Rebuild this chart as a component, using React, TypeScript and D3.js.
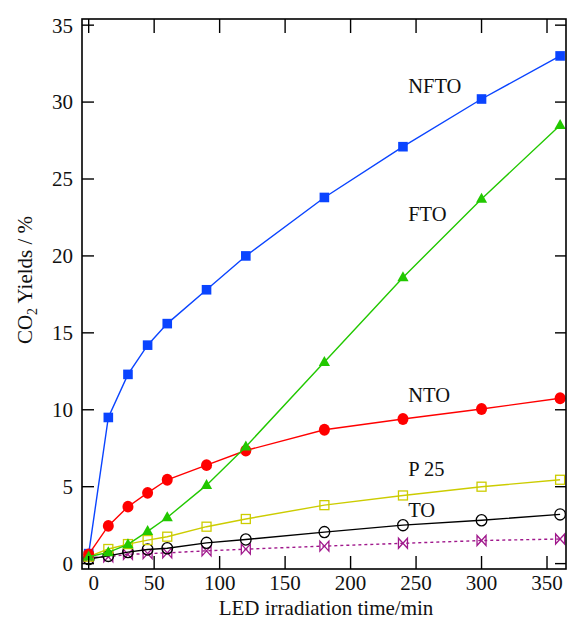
import React from "react";
import * as d3 from "d3";

const times = [0, 15, 30, 45, 60, 90, 120, 180, 240, 300, 360];
const nfto = [0.65, 9.5, 12.3, 14.2, 15.6, 17.8, 20.0, 23.8, 27.1, 30.2, 33.0];
const fto = [0.45, 0.73, 1.25, 2.1, 3.0, 5.1, 7.6, 13.1, 18.6, 23.7, 28.5];
const nto = [0.6, 2.45, 3.7, 4.6, 5.45, 6.4, 7.35, 8.7, 9.4, 10.05, 10.75];
const p25 = [0.45, 0.95, 1.27, 1.53, 1.75, 2.4, 2.9, 3.8, 4.43, 5.0, 5.45];
const to = [0.3, 0.5, 0.75, 0.92, 1.0, 1.35, 1.57, 2.05, 2.5, 2.82, 3.2];
const other = [0.4, 0.45, 0.6, 0.65, 0.7, 0.83, 0.94, 1.14, 1.32, 1.5, 1.6];

const xTicks = [0, 50, 100, 150, 200, 250, 300, 350];
const yTicks = [0, 5, 10, 15, 20, 25, 30, 35];

const seriesLabels = [
  { text: "NFTO", x: 244, y: 30.6 },
  { text: "FTO", x: 244, y: 22.3 },
  { text: "NTO", x: 244, y: 10.5 },
  { text: "P 25", x: 244, y: 5.7 },
  { text: "TO", x: 244, y: 3.0 },
];

const W = 569;
const H = 620;
const left = 82, right = 566, top = 19, bottom = 569;
const FONT = "'Liberation Serif', 'Times New Roman', serif";

const x = d3.scaleLinear().domain([-5.1, 364.5]).range([left, right]);
const y = d3.scaleLinear().domain([-0.35, 35.4]).range([bottom, top]);

type Marker = "fsquare" | "ftri" | "fcircle" | "osquare" | "ocircle" | "bowtie";

function markerEl(kind: Marker, cx: number, cy: number, color: string, key: number) {
  switch (kind) {
    case "fsquare":
      return <rect key={key} x={cx - 4.8} y={cy - 4.8} width={9.6} height={9.6} fill={color} />;
    case "osquare":
      return <rect key={key} x={cx - 4.5} y={cy - 4.5} width={9} height={9} fill="none" stroke={color} strokeWidth={1.3} />;
    case "fcircle":
      return <ellipse key={key} cx={cx} cy={cy} rx={5.5} ry={5.9} fill={color} />;
    case "ocircle":
      return <ellipse key={key} cx={cx} cy={cy} rx={5.3} ry={5.6} fill="none" stroke={color} strokeWidth={1.3} />;
    case "ftri":
      return <path key={key} d={`M${cx},${cy - 6.2} L${cx + 5.6},${cy + 3.8} L${cx - 5.6},${cy + 3.8} Z`} fill={color} />;
    case "bowtie":
      return (
        <path
          key={key}
          d={`M${cx - 4.5},${cy - 5} L${cx - 4.5},${cy + 5} L${cx + 4.5},${cy - 5} L${cx + 4.5},${cy + 5} Z`}
          fill="none"
          stroke={color}
          strokeWidth={1.3}
        />
      );
  }
}

const series: { vals: number[]; color: string; marker: Marker; dash?: string }[] = [
  { vals: other, color: "#a0188c", marker: "bowtie", dash: "3,3" },
  { vals: to, color: "#000000", marker: "ocircle" },
  { vals: p25, color: "#cccc00", marker: "osquare" },
  { vals: nfto, color: "#0a44ff", marker: "fsquare" },
  { vals: nto, color: "#ff0000", marker: "fcircle" },
  { vals: fto, color: "#22c800", marker: "ftri" },
];

export default function App() {
  const line = d3
    .line<number>()
    .x((_, i) => x(times[i]))
    .y((d) => y(d));
  return (
    <svg width={W} height={H} style={{ position: "absolute", left: 0, top: 0, background: "#fff" }}>
      {series.map((s, si) => (
        <g key={si}>
          <path d={line(s.vals) || ""} fill="none" stroke={s.color} strokeWidth={1.4} strokeDasharray={s.dash} />
          {s.vals.map((v, i) => markerEl(s.marker, x(times[i]), y(v), s.color, i))}
        </g>
      ))}
      <rect x={left} y={top} width={right - left} height={bottom - top} fill="none" stroke="#000" strokeWidth={1.6} />
      {yTicks.map((t) => (
        <g key={"y" + t}>
          <line x1={left} x2={left + 12} y1={y(t)} y2={y(t)} stroke="#000" strokeWidth={1.4} />
          <line x1={right - 11} x2={right} y1={y(t)} y2={y(t)} stroke="#000" strokeWidth={1.4} />
          <text x={left - 9} y={y(t)} dy="0.35em" textAnchor="end" fontFamily={FONT} fontSize={21} fill="#111">
            {t}
          </text>
        </g>
      ))}
      {xTicks.map((t, i) => (
        <g key={"x" + t}>
          <line x1={x(t)} x2={x(t)} y1={bottom} y2={bottom - 13} stroke="#000" strokeWidth={1.4} />
          <line x1={x(t)} x2={x(t)} y1={top} y2={top + 14} stroke="#000" strokeWidth={1.4} />
          <text x={x(t) + (i === 0 ? 5 : 0)} y={590} textAnchor="middle" fontFamily={FONT} fontSize={21} fill="#111">
            {t}
          </text>
        </g>
      ))}
      {seriesLabels.map((l) => (
        <text key={l.text} x={x(l.x)} y={y(l.y)} fontFamily={FONT} fontSize={20.5} fill="#111">
          {l.text}
        </text>
      ))}
      <text x={(left + right) / 2 + 2} y={615} textAnchor="middle" fontFamily={FONT} fontSize={21} fill="#111">
        LED irradiation time/min
      </text>
      <text
        transform={`translate(32,280) rotate(-90)`}
        textAnchor="middle"
        fontFamily={FONT}
        fontSize={21}
        fill="#111"
      >
        CO
        <tspan fontSize={14} dy={5}>2</tspan>
        <tspan dy={-5}> Yields / %</tspan>
      </text>
    </svg>
  );
}
